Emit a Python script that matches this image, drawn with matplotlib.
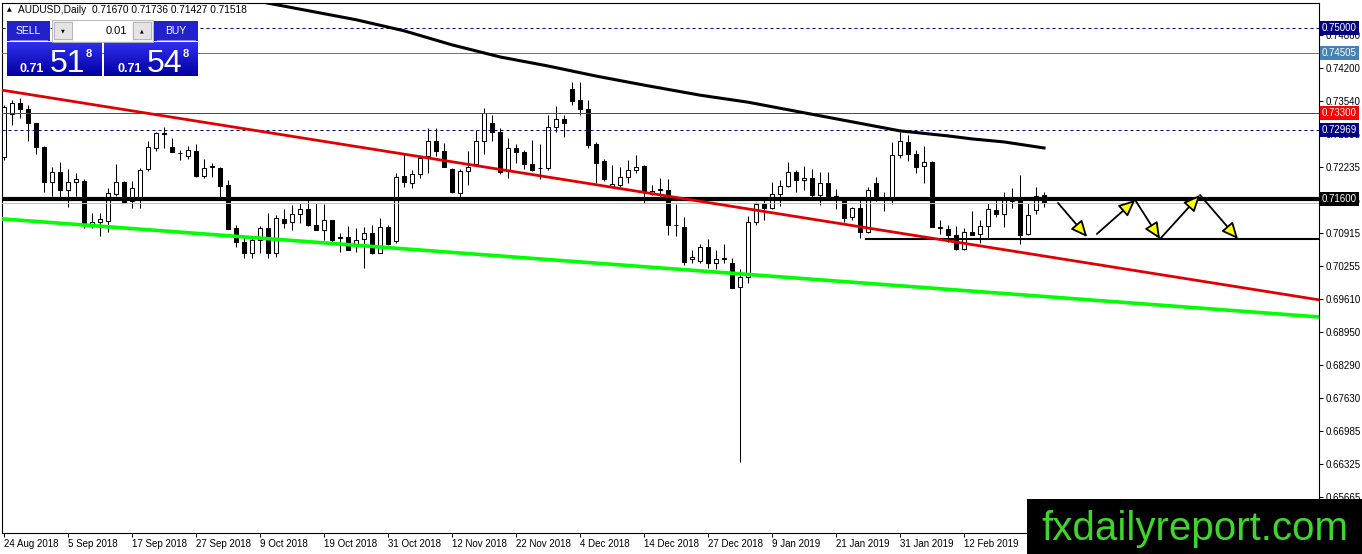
import matplotlib
matplotlib.use("Agg")
import matplotlib.pyplot as plt
import matplotlib.patches as mpatches
import matplotlib.transforms as mtransforms
import numpy as np

W, H = 1362, 554

# AUDUSD daily bars, 24 Aug 2018 .. 26 Feb 2019 (bar index 0..130)
opens = [0.7244, 0.7328, 0.7350, 0.7338, 0.7310, 0.7262, 0.7194, 0.7213, 0.7177, 0.7193,
         0.7196, 0.7108, 0.7113, 0.7116, 0.7169, 0.7194, 0.7156, 0.7162, 0.7219, 0.7260,
         0.7290, 0.7263, 0.7251, 0.7246, 0.7255, 0.7206, 0.7226, 0.7222, 0.7187, 0.7101,
         0.7074, 0.7053, 0.7077, 0.7101, 0.7053, 0.7119, 0.7113, 0.7130, 0.7139, 0.7108,
         0.7097, 0.7117, 0.7083, 0.7083, 0.7068, 0.7079, 0.7091, 0.7053, 0.7104, 0.7076,
         0.7205, 0.7191, 0.7209, 0.7245, 0.7275, 0.7255, 0.7219, 0.7171, 0.7216, 0.7230,
         0.7275, 0.7310, 0.7292, 0.7215, 0.7260, 0.7252, 0.7230, 0.7222, 0.7222, 0.7303,
         0.7318, 0.7378, 0.7356, 0.7338, 0.7269, 0.7236, 0.7184, 0.7187, 0.7204, 0.7218,
         0.7225, 0.7172, 0.7179, 0.7177, 0.7108, 0.7104, 0.7040, 0.7037, 0.7065, 0.7032,
         0.7043, 0.7032, 0.6984, 0.7004, 0.7114, 0.7150, 0.7141, 0.7169, 0.7185, 0.7214,
         0.7197, 0.7201, 0.7167, 0.7191, 0.7165, 0.7159, 0.7124, 0.7141, 0.7094, 0.7192,
         0.7160, 0.7158, 0.7247, 0.7272, 0.7249, 0.7225, 0.7234, 0.7103, 0.7099, 0.7088,
         0.7061, 0.7093, 0.7090, 0.7105, 0.7138, 0.7130, 0.7156, 0.7158, 0.7090, 0.7138,
         0.71670]
highs = [0.7346, 0.7356, 0.7361, 0.7346, 0.7311, 0.7264, 0.7224, 0.7234, 0.7219, 0.7211,
         0.7199, 0.7131, 0.7132, 0.7182, 0.7229, 0.7196, 0.7195, 0.7222, 0.7274, 0.7292,
         0.7303, 0.7280, 0.7257, 0.7264, 0.7269, 0.7240, 0.7232, 0.7223, 0.7197, 0.7108,
         0.7085, 0.7085, 0.7106, 0.7131, 0.7128, 0.7139, 0.7148, 0.7151, 0.7158, 0.7151,
         0.7150, 0.7118, 0.7091, 0.7106, 0.7101, 0.7103, 0.7108, 0.7121, 0.7108, 0.7212,
         0.7248, 0.7217, 0.7247, 0.7300, 0.7301, 0.7270, 0.7221, 0.7219, 0.7254, 0.7297,
         0.7340, 0.7326, 0.7301, 0.7280, 0.7268, 0.7257, 0.7277, 0.7269, 0.7327, 0.7344,
         0.7327, 0.7393, 0.7393, 0.7356, 0.7273, 0.7240, 0.7227, 0.7224, 0.7237, 0.7247,
         0.7227, 0.7187, 0.7202, 0.7200, 0.7149, 0.7123, 0.7058, 0.7071, 0.7079, 0.7058,
         0.7070, 0.7043, 0.7020, 0.7126, 0.7154, 0.7161, 0.7193, 0.7197, 0.7234, 0.7218,
         0.7225, 0.7220, 0.7214, 0.7214, 0.7180, 0.7164, 0.7144, 0.7164, 0.7184, 0.7203,
         0.7174, 0.7272, 0.7293, 0.7287, 0.7257, 0.7264, 0.7236, 0.7118, 0.7108, 0.7106,
         0.7101, 0.7136, 0.7118, 0.7151, 0.7158, 0.7174, 0.7181, 0.7207, 0.7151, 0.7184,
         0.71736]
lows = [0.7237, 0.7307, 0.7320, 0.7274, 0.7248, 0.7174, 0.7166, 0.7164, 0.7144, 0.7166,
        0.7101, 0.7101, 0.7085, 0.7093, 0.7166, 0.7151, 0.7141, 0.7141, 0.7215, 0.7254,
        0.7261, 0.7252, 0.7237, 0.7240, 0.7204, 0.7201, 0.7204, 0.7163, 0.7099, 0.7065,
        0.7042, 0.7042, 0.7052, 0.7042, 0.7045, 0.7101, 0.7098, 0.7111, 0.7106, 0.7097,
        0.7078, 0.7075, 0.7055, 0.7058, 0.7055, 0.7022, 0.7051, 0.7053, 0.7068, 0.7073,
        0.7183, 0.7182, 0.7201, 0.7212, 0.7246, 0.7224, 0.7172, 0.7162, 0.7187, 0.7227,
        0.7248, 0.7275, 0.7209, 0.7201, 0.7232, 0.7220, 0.7216, 0.7199, 0.7218, 0.7293,
        0.7283, 0.7346, 0.7327, 0.7260, 0.7191, 0.7195, 0.7183, 0.7184, 0.7192, 0.7211,
        0.7151, 0.7167, 0.7164, 0.7088, 0.7085, 0.7028, 0.7033, 0.7033, 0.7022, 0.7020,
        0.7032, 0.6982, 0.6637, 0.6993, 0.7108, 0.7118, 0.7139, 0.7146, 0.7183, 0.7174,
        0.7177, 0.7164, 0.7148, 0.7163, 0.7139, 0.7114, 0.7118, 0.7081, 0.7091, 0.7155,
        0.7136, 0.7150, 0.7242, 0.7236, 0.7211, 0.7191, 0.7103, 0.7090, 0.7075, 0.7058,
        0.7058, 0.7088, 0.7073, 0.7079, 0.7124, 0.7103, 0.7141, 0.7070, 0.7088, 0.7130,
        0.71427]
closes = [0.7343, 0.7350, 0.7338, 0.7310, 0.7262, 0.7193, 0.7213, 0.7177, 0.7193, 0.7199,
          0.7111, 0.7113, 0.7119, 0.7171, 0.7194, 0.7152, 0.7181, 0.7218, 0.7262, 0.7290,
          0.7289, 0.7252, 0.7250, 0.7257, 0.7206, 0.7222, 0.7224, 0.7186, 0.7100, 0.7074,
          0.7052, 0.7077, 0.7101, 0.7053, 0.7121, 0.7111, 0.7130, 0.7139, 0.7108, 0.7097,
          0.7118, 0.7078, 0.7081, 0.7059, 0.7078, 0.7091, 0.7053, 0.7104, 0.7071, 0.7204,
          0.7193, 0.7209, 0.7242, 0.7275, 0.7254, 0.7224, 0.7173, 0.7216, 0.7224, 0.7275,
          0.7330, 0.7292, 0.7214, 0.7260, 0.7252, 0.7230, 0.7217, 0.7221, 0.7303, 0.7318,
          0.7311, 0.7355, 0.7338, 0.7267, 0.7232, 0.7199, 0.7189, 0.7204, 0.7218, 0.7224,
          0.7174, 0.7176, 0.7178, 0.7108, 0.7107, 0.7035, 0.7045, 0.7065, 0.7032, 0.7040,
          0.7041, 0.6983, 0.7005, 0.7114, 0.7150, 0.7141, 0.7169, 0.7185, 0.7214, 0.7197,
          0.7201, 0.7167, 0.7192, 0.7164, 0.7163, 0.7121, 0.7141, 0.7094, 0.7177, 0.7160,
          0.7159, 0.7247, 0.7274, 0.7248, 0.7224, 0.7234, 0.7103, 0.7102, 0.7088, 0.7061,
          0.7093, 0.7088, 0.7105, 0.7139, 0.7130, 0.7158, 0.7159, 0.7088, 0.7128, 0.7166,
          0.71518]

# moving average (black curve), sampled at bar indices
ma_idx = [30, 37, 44, 50, 56, 62, 68, 74, 80, 87, 93, 100, 106, 112, 118, 121, 125, 130]
ma_vals = [0.7558, 0.7537, 0.7516, 0.7494, 0.7466, 0.7442, 0.7424, 0.7404, 0.7386, 0.7366,
           0.7352, 0.7331, 0.7313, 0.7295, 0.7285, 0.7279, 0.7273, 0.7261]

# date labels every 8 bars
date_idx = [0, 8, 16, 24, 32, 40, 48, 56, 64, 72, 80, 88, 96, 104, 112, 120]
date_labels = ["24 Aug 2018", "5 Sep 2018", "17 Sep 2018", "27 Sep 2018", "9 Oct 2018",
               "19 Oct 2018", "31 Oct 2018", "12 Nov 2018", "22 Nov 2018", "4 Dec 2018",
               "14 Dec 2018", "27 Dec 2018", "9 Jan 2019", "21 Jan 2019", "31 Jan 2019",
               "12 Feb 2019"]

price_ticks = [0.74860, 0.74200, 0.73540, 0.72895, 0.72235, 0.71575, 0.70915, 0.70255,
               0.69610, 0.68950, 0.68290, 0.67630, 0.66985, 0.66325, 0.65665]

# drawn objects: trend lines (bar index, price) and horizontal levels
red_trend = ([-0.25, 164.375], [0.7376, 0.6959])
green_trend = ([-0.25, 164.375], [0.7120, 0.6925])
support_start, support_level = 107.75, 0.7080
resistance_level = 0.71600
bid = 0.71518
arrows = [((131.75, 0.71516), (135.4, 0.70840)),
          ((136.6, 0.70899), (141.4, 0.71575)),
          ((141.4, 0.71575), (144.5, 0.70800)),
          ((144.5, 0.70800), (149.5, 0.71675)),
          ((149.5, 0.71675), (154.25, 0.70800))]

FONT = ["Liberation Sans", "DejaVu Sans"]
plt.rcParams["font.family"] = FONT

fig = plt.figure(figsize=(W / 100, H / 100), dpi=100)
fig.patch.set_facecolor("white")
ax = fig.add_axes([2 / W, (H - 533) / H, (1319 - 2) / W, (533 - 3) / H])
ax.set_xlim(-0.25, 164.375)
ax.set_ylim(0.649537, 0.754925)

x = np.arange(len(opens))
o = np.array(opens); h = np.array(highs); l = np.array(lows); c = np.array(closes)
ax.vlines(x, l, h, color="black", linewidth=0.75, zorder=2)
up = c >= o
body = np.maximum(np.abs(c - o), 0.00002)
ax.bar(x[up], body[up], bottom=np.minimum(o, c)[up], width=0.62,
       facecolor="white", edgecolor="black", linewidth=0.75, zorder=3)
ax.bar(x[~up], body[~up], bottom=np.minimum(o, c)[~up], width=0.62,
       facecolor="black", edgecolor="black", linewidth=0.75, zorder=3)

# levels
thin = dict(lw=0.72, snap=True, zorder=4)
ax.axhline(0.75000, color="#000080", ls=(0, (3, 3)), **thin)
ax.axhline(0.74505, color="#4682B4", **thin)
ax.axhline(0.73300, color="#FF0000", **thin)
ax.axhline(0.72969, color="#000080", ls=(0, (3, 3)), **thin)
ax.axhline(bid, color="#C0C0C0", **thin)
ax.axhline(resistance_level, color="black", lw=3.0, zorder=5)
ax.plot([support_start, 164.375], [support_level, support_level], color="black", lw=1.5, zorder=5)

ax.plot(*red_trend, color="#E00000", lw=2.0, zorder=5)
ax.plot(*green_trend, color="#00FF00", lw=2.6, zorder=5)
ax.plot(ma_idx, ma_vals, color="black", lw=2.2, zorder=5)

for (p0, p1) in arrows:
    ax.add_patch(mpatches.FancyArrowPatch(p0, p1, arrowstyle="-|>,head_length=0.55,head_width=0.25",
                                          mutation_scale=18, shrinkA=0, shrinkB=0, lw=1.3,
                                          edgecolor="black", facecolor="#FFFF00", zorder=6))

# axes styling (MT4 look)
for s in ax.spines.values():
    s.set_linewidth(0.8)
    s.set_color("black")
ax.yaxis.tick_right()
ax.set_yticks(price_ticks)
ax.set_yticklabels([f"{v:.5f}" for v in price_ticks])
ax.tick_params(axis="y", direction="out", length=3, width=0.75, pad=1.5, labelsize=7)
ax.set_xticks(date_idx)
ax.set_xticklabels(date_labels, ha="left")
ax.tick_params(axis="x", direction="out", length=3, width=0.75, pad=1.5, labelsize=7)

# price labels on the right scale
blend = mtransforms.blended_transform_factory(ax.transAxes, ax.transData)
tags = [(0.75000, "#000080"), (0.74505, "#4682B4"), (0.73300, "#FF0000"),
        (0.72969, "#000080"), (resistance_level, "black")]
for val, col in tags:
    ax.text(1.0023, val, f"{val:.5f}", transform=blend, fontsize=7, color="white",
            va="center", ha="left", clip_on=False, zorder=10,
            bbox=dict(boxstyle="square,pad=0.22", fc=col, ec="none"))

# overlay in pixel coordinates: header, one-click trading panel, logo
ov = fig.add_axes([0, 0, 1, 1], zorder=20)
ov.set_xlim(0, W)
ov.set_ylim(H, 0)
ov.axis("off")
ov.patch.set_alpha(0)

ov.text(7, 10, "\u25B2", fontsize=4.5, va="center", ha="left", family="DejaVu Sans")
ov.text(18, 10, "AUDUSD,Daily  0.71670 0.71736 0.71427 0.71518", fontsize=7.3, va="center", ha="left")

grad = np.linspace(0, 1, 40).reshape(-1, 1)
cmap = matplotlib.colors.LinearSegmentedColormap.from_list("mt", ["#3030EE", "#0000A0"])
for x0, x1 in [(7, 102), (104, 198)]:
    ov.imshow(grad, extent=(x0, x1, 76, 42), cmap=cmap, aspect="auto", zorder=1)
for x0, x1 in [(7, 50), (154, 198)]:
    ov.add_patch(mpatches.Rectangle((x0, 21), x1 - x0, 20, fc="#2222CC", ec="none", zorder=1))
    ov.plot([x0 + 3, x1 - 3], [39.5, 39.5], color="#9A9AF0", lw=0.6, zorder=2)
ov.text(28.5, 30.5, "SELL", color="white", fontsize=7.5, ha="center", va="center")
ov.text(176, 30.5, "BUY", color="white", fontsize=7.5, ha="center", va="center")
ov.add_patch(mpatches.Rectangle((52, 20), 101, 22, fc="#F0F0F0", ec="#B0B0B0", lw=0.6, zorder=1))
ov.add_patch(mpatches.Rectangle((73, 21), 59, 20, fc="white", ec="none", zorder=1))
for x0 in (54, 133):
    ov.add_patch(mpatches.Rectangle((x0, 22), 18, 17, fc="#E4E4E4", ec="#ADADAD", lw=0.6, zorder=2))
ov.text(63, 30.5, "\u25BC", fontsize=3.5, ha="center", va="center", family="DejaVu Sans")
ov.text(142, 30.5, "\u25B2", fontsize=3.5, ha="center", va="center", family="DejaVu Sans")
ov.text(127, 31, "0.01", fontsize=8, ha="right", va="center")
for x0, big in [(20, "51"), (117, "54")]:
    ov.text(x0, 72, "0.71", color="white", fontsize=9, weight="bold", ha="left", va="baseline")
    ov.text(x0 + 30, 72, big, color="white", fontsize=23, ha="left", va="baseline")
    ov.text(x0 + 66, 57, "8", color="white", fontsize=8, weight="bold", ha="left", va="baseline")

ov.add_patch(mpatches.Rectangle((1027, 499), W - 1027, H - 499, fc="black", ec="none", zorder=1))
ov.text(1041, 540, "fxdailyreport.com", color="#3ED62B", fontsize=29, ha="left", va="baseline", zorder=2)

fig.savefig("out.png", dpi=100)
